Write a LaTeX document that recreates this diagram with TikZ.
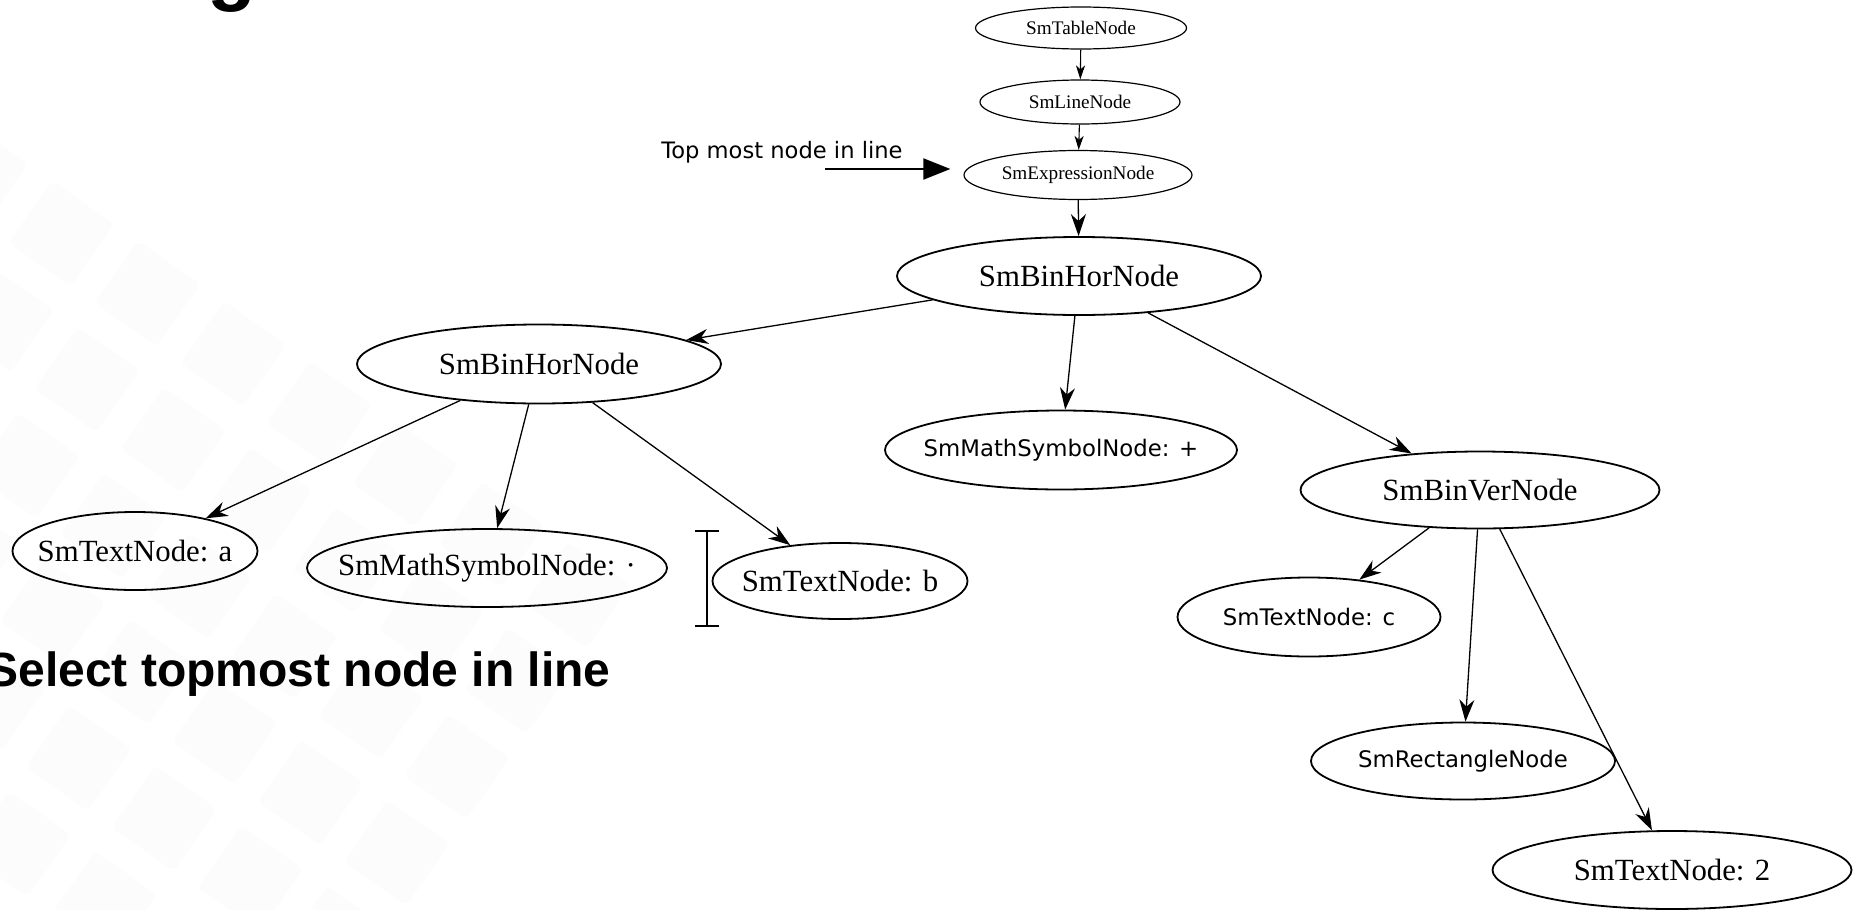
\documentclass[tikz,border=0pt]{standalone}
\usepackage{fontspec}
\setmainfont{Liberation Serif}
\newfontfamily\dvsans{DejaVu Sans}
\newfontfamily\slidesans{Liberation Sans}
\usetikzlibrary{shapes.geometric,arrows.meta}

\begin{document}
\begin{tikzpicture}
		[x=0.5pt,y=-0.5pt,
		gvnode/.style={ellipse,draw,line width=0.9pt,inner sep=0pt,
			execute at begin node={\hbox to 0pt\bgroup\hss},
			execute at end node={\hss\egroup}},
		bignode/.style={gvnode,font=\fontsize{15.4}{18}\selectfont},
		sansnode/.style={gvnode,font=\dvsans\fontsize{11.4}{14}\selectfont},
		smallnode/.style={gvnode,line width=0.6pt,font=\fontsize{9.6}{12}\selectfont},
		dims/.style 2 args={minimum width=#1,minimum height=#2},
		link/.style={-{Stealth[length=11pt,width=7.5pt,inset=3.5pt]},line width=0.65pt},
		smalllink/.style={-{Stealth[length=7pt,width=4.5pt,inset=2pt]},line width=0.55pt},
		pointer/.style={-{Triangle[length=13.5pt,width=10.5pt]},line width=1pt},
		tile/.style={fill=black!1.3,rounded corners=3pt}]
		\useasboundingbox (0,0) rectangle (1857,910);
		\clip (0,0) rectangle (1857,910);

		% faint tiles of the slide background
		\begin{scope}
			\clip (0,90) -- (560,90) -- (760,910) -- (0,910) -- cycle;
			\begin{scope}[shift={(-120,60)},rotate=-35]
				\foreach \i in {0,...,8}
					\foreach \j in {0,...,8}
						\fill[tile] (\i*105,\j*105) rectangle ++(76,76);
			\end{scope}
		\end{scope}

		% slide text
		\node [anchor=base,inner sep=0pt,font=\slidesans\bfseries\fontsize{40}{48}\selectfont] (head) at (232,-4) {g};
		\node [anchor=base east,inner sep=0pt,font=\slidesans\bfseries\fontsize{24}{29}\selectfont] (title) at (611,686) {Select topmost node in line};

		% line chain
		\node [smallnode,dims={105.5pt}{21pt}] (table) at (1081,28) {SmTableNode};
		\node [smallnode,dims={100pt}{22pt}] (line) at (1080,102) {SmLineNode};
		\node [smallnode,dims={114pt}{24.5pt}] (expr) at (1078,175) {SmExpressionNode};

		% expression tree
		\node [bignode,dims={182pt}{39pt}] (hor) at (1079,276) {SmBinHorNode};
		\node [bignode,dims={182pt}{39.5pt}] (hor2) at (539,364) {SmBinHorNode};
		\node [sansnode,dims={176pt}{39.5pt}] (plus) at (1061,450) {SmMathSymbolNode: +};
		\node [bignode,dims={179.5pt}{38.5pt}] (ver) at (1480,490) {SmBinVerNode};
		\node [bignode,dims={122.5pt}{39pt}] (ta) at (135,551) {SmTextNode: a};
		\node [bignode,dims={180pt}{39pt}] (cdot) at (487,568) {SmMathSymbolNode: ·};
		\node [bignode,dims={127.5pt}{38pt}] (tb) at (840,581) {SmTextNode: b};
		\node [sansnode,dims={131.5pt}{39.5pt}] (tc) at (1309,617) {SmTextNode: c};
		\node [sansnode,dims={152pt}{38.5pt}] (rect) at (1463,761) {SmRectangleNode};
		\node [bignode,dims={179.5pt}{39pt}] (t2) at (1672,870) {SmTextNode: 2};

		\draw [smalllink] (table) -- (line);
		\draw [smalllink] (line) -- (expr);
		\draw [link] (expr) -- (hor);
		\draw [link] (hor) -- (hor2);
		\draw [link] (hor) -- (plus);
		\draw [link] (hor) -- (ver);
		\draw [link] (hor2) -- (ta);
		\draw [link] (hor2) -- (cdot);
		\draw [link] (hor2) -- (tb);
		\draw [link] (ver) -- (tc);
		\draw [link] (ver) -- (rect);
		\draw [link] (ver) -- (t2);

		% annotation
		\node [anchor=base west,inner sep=0pt,font=\dvsans\fontsize{11.3}{13}\selectfont] (note) at (661,158) {Top most node in line};
		\coordinate (ptr) at (825,169);
		\draw [pointer,shorten >=6.5pt] (ptr) -- (ptr -| expr.west);

		% text cursor
		\draw [line width=1pt] (695,531) -- (719,531) (707,531) -- (707,626) (695,626) -- (719,626);

	\end{tikzpicture}
\end{document}
